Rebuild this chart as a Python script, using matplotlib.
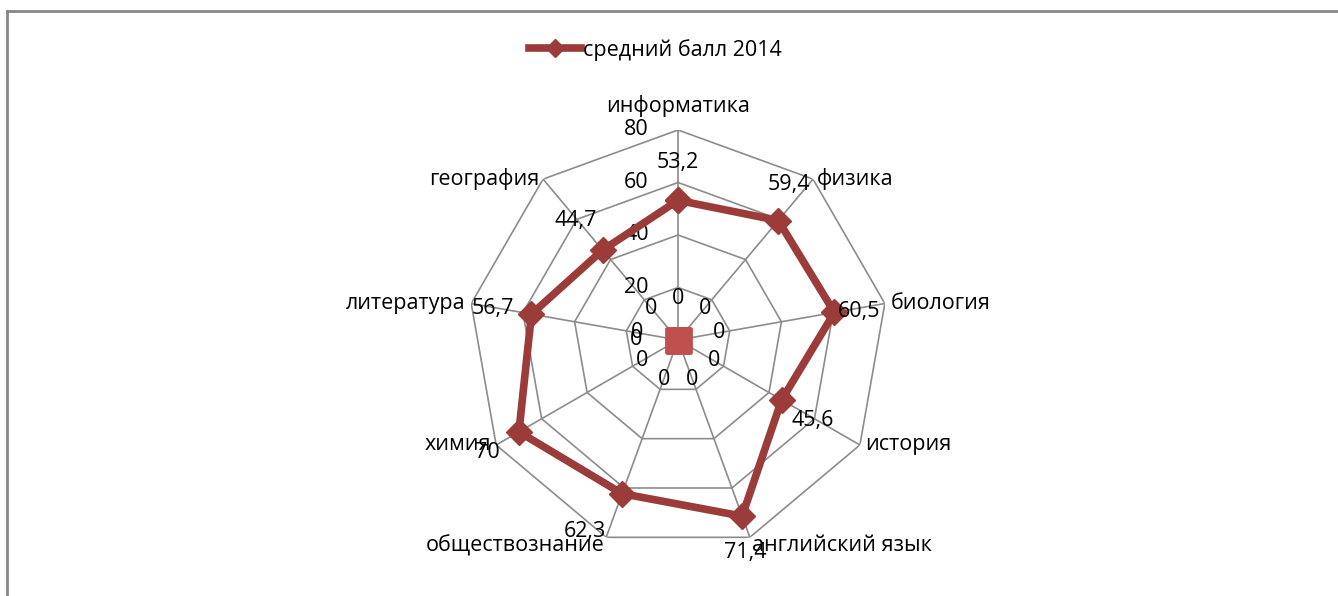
import numpy as np
import matplotlib.pyplot as plt
from matplotlib.lines import Line2D

plt.rcParams['font.family'] = ['Open Sans', 'DejaVu Sans']

categories = ['информатика', 'физика', 'биология', 'история', 'английский язык',
              'обществознание', 'химия', 'литература', 'география']
scores_2014 = [53.2, 59.4, 60.5, 45.6, 71.4, 62.3, 70, 56.7, 44.7]
scores_zero = [0, 0, 0, 0, 0, 0, 0, 0, 0]
ring_values = [20, 40, 60, 80]
ring_labels = ['0', '20', '40', '60', '80']

# label offsets in points (screen), hand tuned from the picture
value_offsets = [(0, 27), (8, 26), (18, 1), (22, -15), (2, -26),
                 (-27, -27), (-23, -15), (-28, 4), (-19, 21)]

line_color = '#9b3b3a'
grid_color = '#8c8c8c'
fs = 15.5

n = len(categories)
theta = np.linspace(0, 2 * np.pi, n, endpoint=False)
theta_closed = np.append(theta, theta[0])

fig = plt.figure(figsize=(13.38, 5.96), dpi=100)
# outer chart border (only left/top visible in the crop)
fig.add_artist(Line2D([7 / 1338, 7 / 1338], [0, 1 - 11 / 596], color='#888888', lw=2))
fig.add_artist(Line2D([7 / 1338, 1], [1 - 11 / 596, 1 - 11 / 596], color='#888888', lw=2))

ax = fig.add_axes([0.3498, 0.0772, 0.3139, 0.7047], projection='polar')
ax.set_theta_zero_location('N')
ax.set_theta_direction(-1)
ax.set_ylim(0, 80)
ax.grid(False)
ax.spines['polar'].set_visible(False)
ax.set_xticks([])
ax.set_yticks([])
ax.patch.set_alpha(0)

# polygon grid and spokes
for r in ring_values:
    ax.plot(theta_closed, [r] * (n + 1), color=grid_color, lw=1.2, zorder=1)
for t in theta:
    ax.plot([t, t], [0, 80], color=grid_color, lw=1.2, zorder=1)

# axis value labels along the top spoke
for i, lab in enumerate(ring_labels):
    ax.annotate(lab, xy=(0, i * 20), xytext=(-30, 0), textcoords='offset points',
                ha='center', va='center', fontsize=fs)

# main series
ax.plot(theta_closed, scores_2014 + scores_2014[:1], color=line_color, lw=5.5,
        marker='D', markersize=13, zorder=3)
for t, v, off in zip(theta, scores_2014, value_offsets):
    ax.annotate(f'{v:g}'.replace('.', ','), xy=(t, v), xytext=off,
                textcoords='offset points', ha='center', va='center', fontsize=fs, zorder=5)

# zero series
ax.plot(theta_closed, scores_zero + scores_zero[:1], color='#c0504d', lw=0,
        marker='s', markersize=18, zorder=4)
for t, v in zip(theta, scores_zero):
    ax.annotate(str(v), xy=(t, v), xytext=(30 * np.sin(t), 30 * np.cos(t)),
                textcoords='offset points', ha='center', va='center', fontsize=fs, zorder=5)

# category labels around the outer ring
for t, name in zip(theta, categories):
    s, c = np.sin(t), np.cos(t)
    if abs(s) < 0.1:
        ha, dy = 'center', 17
    elif s > 0:
        ha, dy = 'left', 0
    else:
        ha, dy = 'right', 0
    if c < -0.9:
        dy = -6
    ax.annotate(name, xy=(t, 80), xytext=(4 * s, dy), textcoords='offset points',
                ha=ha, va='center', fontsize=fs)

handle = Line2D([], [], color=line_color, lw=5.5, marker='D', markersize=9)
fig.legend([handle], ['средний балл 2014'], loc='center', bbox_to_anchor=(0.49, 1 - 50 / 596),
           frameon=False, fontsize=fs, handlelength=2.4, handletextpad=0.1)

fig.savefig('out.png', dpi=100)
